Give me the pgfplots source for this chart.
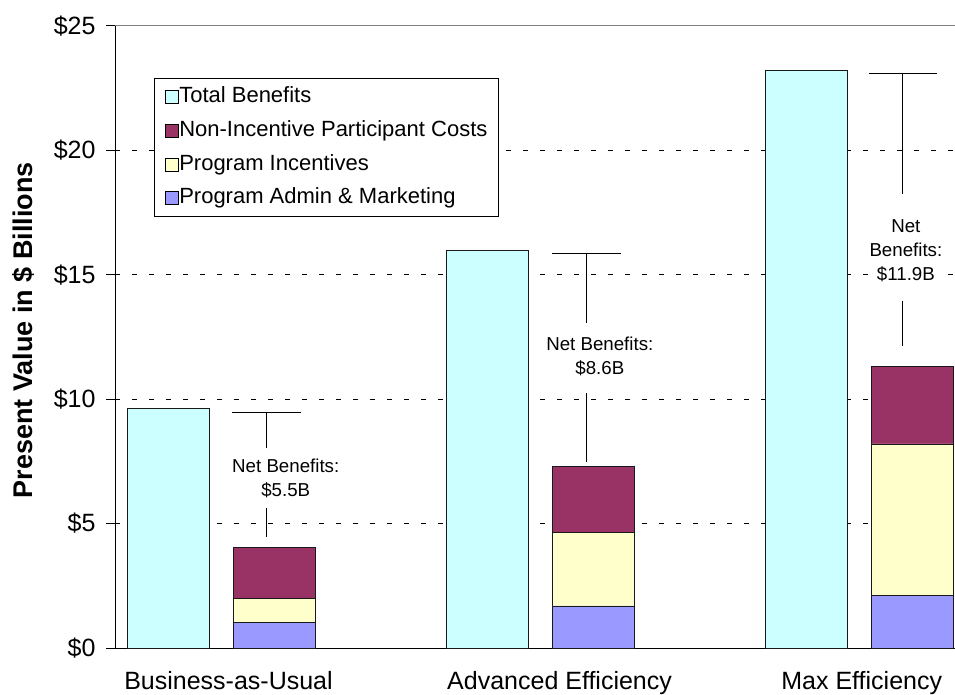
\documentclass[border=0pt]{standalone}
\usepackage{fontspec}
\setmainfont{Liberation Sans}
\usepackage{pgfplots}
\pgfplotsset{compat=1.18}

\definecolor{totben}{HTML}{CCFFFF}
\definecolor{noninc}{HTML}{993366}
\definecolor{incent}{HTML}{FFFFCC}
\definecolor{admin}{HTML}{9999FF}

\pgfplotsset{
  xlbar/.style={ybar, bar width=82pt, bar shift=0pt, draw=black!90, line width=0.9pt, fill=#1,
    legend image code/.code={\draw[fill=#1, draw=black, line width=0.9pt] (0pt,-6.5pt) rectangle (13pt,6.5pt);}},
}
\tikzset{netlabel/.style={font=\fontsize{18.7}{24}\selectfont, align=center, fill=white, inner sep=2pt}}

\begin{document}
\begin{tikzpicture}[x=1pt,y=1pt]
\useasboundingbox (0,0) rectangle (955,694);
\begin{axis}[
    at={(115pt,46pt)}, anchor=south west,
    scale only axis, width=840pt, height=622pt,
    xmin=-0.3323, xmax=2.301, ymin=0, ymax=25,
    axis x line=bottom, axis y line=left,
    axis line style={-, black, line width=1pt},
    ytick={0,5,10,15,20},
    yticklabels={\$0,\$5,\$10,\$15,\$20},
    extra y ticks={25},
    extra y tick labels={\$25},
    extra y tick style={grid style={solid, black!50, line width=1pt}},
    xtick={0.0235,1.0614,2.0085},
    xticklabels={Business-as-Usual,Advanced Efficiency,Max Efficiency},
    tick align=outside, major tick length=9pt,
    tick style={black, line width=1pt},
    xtick style={draw=none},
    ticklabel style={font=\fontsize{25}{30}\selectfont},
    yticklabel style={xshift=-7pt},
    xticklabel style={yshift=-11pt},
    ymajorgrids,
    grid style={black, line width=0.7pt, dash pattern=on 5pt off 12pt},
    ylabel={Present Value in \$ Billions},
    ylabel style={at={(axis description cs:-0.1095,0.511)}, anchor=center,
        font=\bfseries\fontsize{27}{32}\selectfont},
    legend cell align=left,
    legend style={at={(0.0464,0.9164)}, anchor=north west, draw=black, line width=0.8pt,
        fill=white, font=\fontsize{22}{26}\selectfont, inner xsep=11pt, inner ysep=8pt,
        row sep=12.8pt, nodes={inner sep=0pt, text height=16pt, text depth=5pt},
        /tikz/every even column/.append style={column sep=5pt}},
    clip=false,
]
% total benefits
\addplot[xlbar=totben] coordinates {(-0.166,9.61) (0.834,15.96) (1.834,23.20)};
% stacked costs, drawn as cumulative tops
\addplot[xlbar=noninc] coordinates {(0.1666,4.05) (1.1666,7.30) (2.1666,11.31)};
\addplot[xlbar=incent] coordinates {(0.1666,2.00) (1.1666,4.65) (2.1666,8.20)};
\addplot[xlbar=admin] coordinates {(0.1666,1.03) (1.1666,1.69) (2.1666,2.10)};
\legend{Total Benefits, Non-Incentive Participant Costs, Program Incentives, Program Admin \& Marketing}

% net benefit brackets
\addplot[black, line width=0.9pt, unbounded coords=jump, forget plot] coordinates {
  (0.0358,9.46) (0.2508,9.46) (0.2,nan)
  (0.1433,9.46) (0.1433,8.02) (0.2,nan)
  (0.1433,5.61) (0.1433,4.47) (0.2,nan)
  (1.0388,15.85) (1.2538,15.85) (1.2,nan)
  (1.1463,15.85) (1.1463,13.07) (1.2,nan)
  (1.1463,10.24) (1.1463,7.49) (1.2,nan)
  (2.0313,23.10) (2.2436,23.10) (2.2,nan)
  (2.137,23.10) (2.137,18.25) (2.2,nan)
  (2.137,13.95) (2.137,12.15)
};
\node[netlabel] at (axis cs:0.203,6.83) {Net Benefits:\\\$5.5B};
\node[netlabel] at (axis cs:1.1875,11.72) {Net Benefits:\\\$8.6B};
\node[netlabel] at (axis cs:2.147,15.98) {Net\\Benefits:\\\$11.9B};
\end{axis}
\end{tikzpicture}
\end{document}
